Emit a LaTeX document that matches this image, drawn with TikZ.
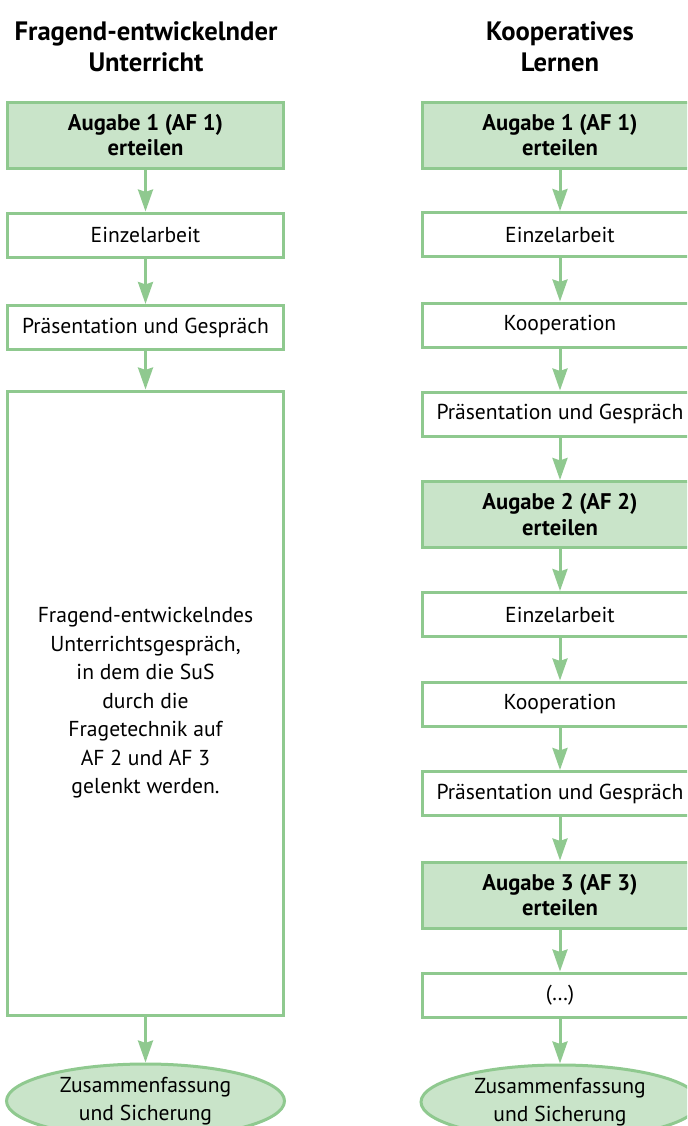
\documentclass[tikz,border=0pt]{standalone}
\usepackage{fontspec}
\setmainfont{PT Sans}
\usetikzlibrary{arrows.meta,shapes.geometric}
\definecolor{gborder}{RGB}{143,201,143}
\definecolor{gfill}{RGB}{201,228,201}
\tikzset{
  base/.style={draw=gborder, line width=1.5pt, minimum width=138pt, align=center, inner sep=0pt, text=black, font=\fontsize{10.8}{12.5}\selectfont},
  plain/.style={base, rectangle, fill=white, minimum height=22pt},
  task/.style={base, rectangle, fill=gfill, minimum height=33pt, font=\fontsize{11.3}{12.8}\selectfont\bfseries},
  bigbox/.style={base, rectangle, fill=white, minimum height=312pt, font=\fontsize{10.8}{14.25}\selectfont},
  endnode/.style={base, ellipse, fill=gfill, minimum width=139pt, minimum height=37pt, font=\fontsize{10.8}{14}\selectfont},
  head/.style={align=center, font=\fontsize{13.3}{15.5}\selectfont\bfseries, inner sep=0pt},
  arr/.style={draw=gborder, line width=1.5pt, -{Stealth[length=11pt, width=7.5pt, inset=1.2pt]}}
}
\begin{document}
\begin{tikzpicture}[x=0.5pt, y=-0.5pt]
\useasboundingbox (0,0) rectangle (687,1126);
\clip (0,0) rectangle (687,1126);
% headers
\node[head] (hl) at (146,47) {Fragend-entwickelnder\\Unterricht};
\node[head] (hr) at (560,47) {Kooperatives\\Lernen};
% left column
\node[task] (L1) at (145.5,135) {Augabe 1 (AF 1)\\erteilen};
\node[plain] (L2) at (145.5,235) {Einzelarbeit};
\node[plain] (L3) at (145.5,327.5) {Präsentation und Gespräch};
\node[bigbox] (L4) at (145.5,703) {Fragend-entwickelndes\\Unterrichtsgespräch,\\in dem die SuS\\durch die\\Fragetechnik auf\\AF 2 und AF 3\\gelenkt werden.};
\node[endnode] (L5) at (145.5,1101) {Zusammenfassung\\und Sicherung};
% right column
\node[task] (R1) at (560,135) {Augabe 1 (AF 1)\\erteilen};
\node[plain] (R2) at (560,234.5) {Einzelarbeit};
\node[plain] (R3) at (560,325) {Kooperation};
\node[plain] (R4) at (560,414) {Präsentation und Gespräch};
\node[task] (R5) at (560,514.5) {Augabe 2 (AF 2)\\erteilen};
\node[plain] (R6) at (560,614.5) {Einzelarbeit};
\node[plain] (R7) at (560,704) {Kooperation};
\node[plain] (R8) at (560,793.5) {Präsentation und Gespräch};
\node[task] (R9) at (560,895) {Augabe 3 (AF 3)\\erteilen};
\node[plain] (R10) at (560,995) {(\dots)};
\node[endnode] (R11) at (560,1102) {Zusammenfassung\\und Sicherung};
% arrows
\foreach \a/\b in {L1/L2,L2/L3,L3/L4,L4/L5,R1/R2,R2/R3,R3/R4,R4/R5,R5/R6,R6/R7,R7/R8,R8/R9,R9/R10,R10/R11}
  \draw[arr] (\a) -- (\b);
\end{tikzpicture}
\end{document}
